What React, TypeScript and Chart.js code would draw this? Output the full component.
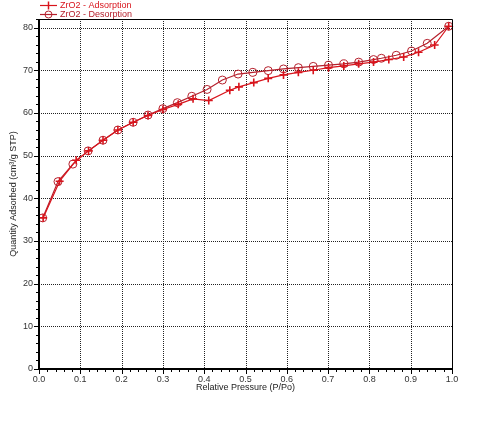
import React, { useEffect, useRef } from "react";
import { Chart, registerables } from "chart.js";
Chart.register(...registerables);

const adsP = [0.010, 0.050, 0.090, 0.120, 0.155, 0.191, 0.228, 0.264, 0.300, 0.337, 0.373, 0.411, 0.462, 0.484, 0.520, 0.555, 0.592, 0.628, 0.664, 0.701, 0.738, 0.774, 0.810, 0.847, 0.883, 0.919, 0.958, 0.992];
const adsQ = [35.4, 44.0, 48.9, 51.1, 53.6, 56.0, 57.8, 59.4, 60.8, 62.0, 63.3, 62.9, 65.3, 66.1, 67.1, 68.1, 68.9, 69.5, 70.0, 70.6, 71.0, 71.5, 71.9, 72.5, 73.1, 74.2, 75.9, 80.3];

const desP = [0.992, 0.940, 0.902, 0.865, 0.829, 0.810, 0.774, 0.738, 0.701, 0.664, 0.628, 0.592, 0.555, 0.518, 0.482, 0.444, 0.407, 0.370, 0.335, 0.300, 0.264, 0.228, 0.191, 0.155, 0.119, 0.082, 0.046, 0.009];
const desQ = [80.3, 76.3, 74.5, 73.5, 72.8, 72.5, 71.9, 71.5, 71.2, 70.9, 70.6, 70.3, 69.9, 69.5, 69.1, 67.7, 65.5, 63.9, 62.4, 61.0, 59.5, 57.8, 56.0, 53.6, 51.1, 48.0, 43.9, 35.4];

const xMajorTicks = [0, 0.1, 0.2, 0.3, 0.4, 0.5, 0.6, 0.7, 0.8, 0.9, 1.0];
const yMajorTicks = [0, 10, 20, 30, 40, 50, 60, 70, 80];
const xMinorStep = 0.02;
const yMinorStep = 2;
const xMin = 0, xMax = 1.0, yMin = 0, yMax = 82;

const seriesNames = ["ZrO2 - Adsorption", "ZrO2 - Desorption"];
const xTitle = "Relative Pressure (P/Po)";
const yTitle = "Quantity Adsorbed (cm³/g STP)";

const ADS_COLOR = "#d8141c";
const DES_COLOR = "#b5202c";
const FONT = "'Liberation Sans', Arial, sans-serif";

const framePlugin = {
  id: "framePlugin",
  beforeDatasetsDraw(chart: any) {
    const { ctx, chartArea, scales } = chart;
    const { left, right, top, bottom } = chartArea;
    const x = scales.x, y = scales.y;
    ctx.save();
    ctx.strokeStyle = "#222";
    ctx.lineWidth = 1;
    ctx.setLineDash([1, 1]);
    for (const v of xMajorTicks) {
      if (v <= xMin || v >= xMax) continue;
      const px = Math.round(x.getPixelForValue(v)) + 0.5;
      ctx.beginPath();
      ctx.moveTo(px, top);
      ctx.lineTo(px, bottom);
      ctx.stroke();
    }
    for (const v of yMajorTicks) {
      if (v <= yMin) continue;
      const py = Math.round(y.getPixelForValue(v)) + 0.5;
      ctx.beginPath();
      ctx.moveTo(left, py);
      ctx.lineTo(right, py);
      ctx.stroke();
    }
    ctx.restore();
  },
  afterDatasetsDraw(chart: any) {
    const { ctx, chartArea, scales } = chart;
    const { left, right, top, bottom } = chartArea;
    const x = scales.x, y = scales.y;
    ctx.save();
    ctx.setLineDash([]);
    ctx.strokeStyle = "#000";
    // thin top/right
    ctx.lineWidth = 1;
    ctx.beginPath();
    ctx.moveTo(left, Math.round(top) + 0.5);
    ctx.lineTo(Math.round(right) + 0.5, Math.round(top) + 0.5);
    ctx.lineTo(Math.round(right) + 0.5, bottom);
    ctx.stroke();
    // thick left/bottom
    ctx.lineWidth = 2;
    ctx.beginPath();
    ctx.moveTo(Math.round(left), top);
    ctx.lineTo(Math.round(left), Math.round(bottom));
    ctx.lineTo(right + 0.5, Math.round(bottom));
    ctx.stroke();
    // ticks
    ctx.lineWidth = 1;
    const nx = Math.round((xMax - xMin) / xMinorStep);
    for (let i = 0; i <= nx; i++) {
      const v = xMin + i * xMinorStep;
      const major = i % 5 === 0;
      const px = Math.round(x.getPixelForValue(v)) + 0.5;
      ctx.beginPath();
      ctx.moveTo(px, bottom);
      ctx.lineTo(px, bottom + (major ? 5 : 3));
      ctx.stroke();
    }
    const ny = Math.round((yMax - yMin) / yMinorStep);
    for (let i = 0; i <= ny; i++) {
      const v = yMin + i * yMinorStep;
      const major = v % 10 === 0;
      const py = Math.round(y.getPixelForValue(v)) + 0.5;
      ctx.beginPath();
      ctx.moveTo(left, py);
      ctx.lineTo(left - (major ? 5 : 3), py);
      ctx.stroke();
    }
    ctx.restore();
  },
  afterDraw(chart: any) {
    const { ctx } = chart;
    ctx.save();
    ctx.font = `9px ${FONT}`;
    ctx.textBaseline = "middle";
    const items = [
      { name: seriesNames[0], color: ADS_COLOR, yy: 5.5, style: "cross" },
      { name: seriesNames[1], color: DES_COLOR, yy: 14.5, style: "circle" },
    ];
    for (const it of items) {
      ctx.strokeStyle = it.color;
      ctx.lineWidth = 1.2;
      ctx.beginPath();
      ctx.moveTo(40, it.yy);
      ctx.lineTo(57, it.yy);
      ctx.stroke();
      if (it.style === "cross") {
        ctx.lineWidth = 1.5;
        ctx.beginPath();
        ctx.moveTo(48.5, it.yy - 4);
        ctx.lineTo(48.5, it.yy + 4);
        ctx.stroke();
      } else {
        ctx.lineWidth = 1;
        ctx.beginPath();
        ctx.arc(48.5, it.yy, 3.5, 0, Math.PI * 2);
        ctx.stroke();
      }
      ctx.fillStyle = it.color;
      ctx.fillText(it.name, 60, it.yy);
    }
    ctx.restore();
  },
};

export default function App() {
  const ref = useRef<HTMLCanvasElement | null>(null);
  useEffect(() => {
    if (!ref.current) return;
    const chart = new Chart(ref.current, {
      type: "scatter",
      data: {
        datasets: [
          {
            label: seriesNames[0],
            data: adsP.map((p, i) => ({ x: p, y: adsQ[i] })),
            showLine: true,
            borderColor: ADS_COLOR,
            backgroundColor: ADS_COLOR,
            borderWidth: 1.2,
            pointStyle: "cross",
            pointRadius: 4,
            pointBorderWidth: 1.6,
            pointBorderColor: ADS_COLOR,
            clip: false,
          } as any,
          {
            label: seriesNames[1],
            data: desP.map((p, i) => ({ x: p, y: desQ[i] })),
            showLine: true,
            borderColor: DES_COLOR,
            backgroundColor: "transparent",
            borderWidth: 1.2,
            pointStyle: "circle",
            pointRadius: 4,
            pointBorderWidth: 1,
            pointBorderColor: DES_COLOR,
            pointBackgroundColor: "rgba(0,0,0,0)",
            clip: false,
          } as any,
        ],
      },
      options: {
        animation: false,
        responsive: false,
        maintainAspectRatio: false,
        layout: { padding: { left: 0, right: 36, top: 19, bottom: 0 } },
        plugins: { legend: { display: false }, tooltip: { enabled: false } },
        scales: {
          x: {
            type: "linear",
            min: xMin,
            max: xMax,
            afterFit: (s: any) => { s.height = 52; },
            afterBuildTicks: (s: any) => { s.ticks = xMajorTicks.map((v) => ({ value: v })); },
            grid: { display: false, drawTicks: false },
            border: { display: false },
            ticks: {
              padding: 5,
              color: "#333",
              font: { family: FONT, size: 9 },
              maxRotation: 0,
              autoSkip: false,
              callback: (v: any) => Number(v).toFixed(1),
            },
            title: {
              display: true,
              text: xTitle,
              color: "#222",
              font: { family: FONT, size: 9 },
              padding: { top: 0, bottom: 28 },
            },
          },
          y: {
            type: "linear",
            min: yMin,
            max: yMax,
            afterFit: (s: any) => { s.width = 39; },
            afterBuildTicks: (s: any) => { s.ticks = yMajorTicks.map((v) => ({ value: v })); },
            grid: { display: false, drawTicks: false },
            border: { display: false },
            ticks: {
              padding: 6,
              color: "#333",
              font: { family: FONT, size: 9 },
              autoSkip: false,
              callback: (v: any) => String(v),
            },
            title: {
              display: true,
              text: yTitle,
              color: "#222",
              font: { family: FONT, size: 9 },
              padding: { top: 8, bottom: 0 },
            },
          },
        },
      },
      plugins: [framePlugin],
    } as any);
    return () => chart.destroy();
  }, []);
  return (
    <div style={{ position: "fixed", left: 0, top: 0, width: 488, height: 421, background: "#fff" }}>
      <canvas ref={ref} width={488} height={421} style={{ display: "block" }} />
    </div>
  );
}
